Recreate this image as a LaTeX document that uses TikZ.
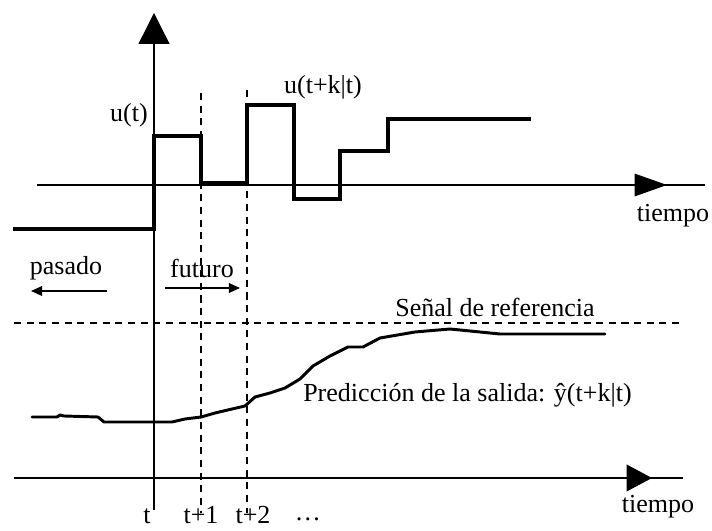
\documentclass[tikz,border=0pt]{standalone}
\usepackage{fontspec}
\setmainfont{Liberation Serif}
\usetikzlibrary{arrows.meta,positioning,calc}

\tikzset{
  axis/.style={line width=1pt},
  signal/.style={line width=2.8pt, line join=miter},
  outline/.style={line width=2.1pt, line join=round, line cap=round},
  guide/.style={line width=0.8pt, dash pattern=on 5pt off 4pt},
  lbl/.style={inner sep=0pt, font=\fontsize{18.5}{21}\selectfont},
}

\begin{document}
\begin{tikzpicture}[x=0.025cm,y=-0.025cm]
  \useasboundingbox (0,0) rectangle (712,531);

  % axes
  \coordinate (vtop) at (154,13);
  \coordinate (vbot) at (154,510);
  \draw[axis,-{Triangle[length=22pt,width=22pt]}] (vbot) -- (vtop);
  \coordinate (ua-l) at (37,185);
  \coordinate (ua-tip) at (667,185);
  \coordinate (ua-r) at (705,185);
  \draw[axis] (ua-l) -- (ua-r);
  \draw[axis,-{Triangle[length=23pt,width=16pt]}] (ua-l) -- (ua-tip);
  \coordinate (ya-l) at (14,478);
  \coordinate (ya-tip) at (652,478);
  \coordinate (ya-r) at (683,478);
  \draw[axis] (ya-l) -- (ya-r);
  \draw[axis,-{Triangle[length=18pt,width=19pt]}] (ya-l) -- (ya-tip);

  % instants t+1, t+2 and the reference
  \draw[guide] (201,93) -- (201,513);
  \draw[guide] (247,90) -- (247,513);
  \draw[guide] (14,323) -- (683,323);

  % control signal
  \draw[signal] (13,229) -- (154,229) -- (154,136) -- (201,136) -- (201,183)
    -- (247,183) -- (247,105) -- (294,105) -- (294,199) -- (340,199)
    -- (340,151) -- (388,151) -- (388,119) -- (531,119);

  % predicted output
  \draw[outline] plot coordinates {(32,417) (57,417) (60,415) (64,416) (98,417)
    (104,422) (172,422) (185,419) (201,417) (215,413) (232,409) (245,406)
    (255,397) (270,393) (285,388) (300,379) (313,366) (330,356) (348,347)
    (363,347) (380,338) (415,332) (450,329) (470,331) (500,334) (605,334)};

  % labels
  \node[lbl] (ut) at (129,115) {u(t)};
  \node[lbl] (utk) at (323,87) {u(t+k|t)};
  \node[lbl] (tiempoA) at (673,216) {tiempo};
  \node[lbl] (tiempoB) at (658,507) {tiempo};
  \node[lbl] (pasado) at (66,268) {pasado};
  \node[lbl] (futuro) at (202,268) {futuro};
  \node[lbl] (senal) at (495,307) {Señal de referencia};
  \node[lbl, anchor=west] (pred) at (303,395) {Predicción de la salida: \^{y}(t+k|t)};
  \node[lbl, anchor=base] (tick0) at (147,523) {t};
  \node[lbl, anchor=base] (tick1) at (201,523) {t+1};
  \node[lbl, anchor=base] (tick2) at (253,523) {t+2};
  \node[lbl, anchor=base] (tickn) at (308,520) {\dots};

  % past / future arrows
  \coordinate (pas-a) at (107,291);
  \coordinate (pas-b) at (31,291);
  \coordinate (fut-a) at (165,288);
  \coordinate (fut-b) at (240,288);
  \draw[axis,-{Triangle[length=8pt,width=7pt]}] (pas-a) -- (pas-b);
  \draw[axis,-{Triangle[length=8pt,width=7pt]}] (fut-a) -- (fut-b);
\end{tikzpicture}
\end{document}
